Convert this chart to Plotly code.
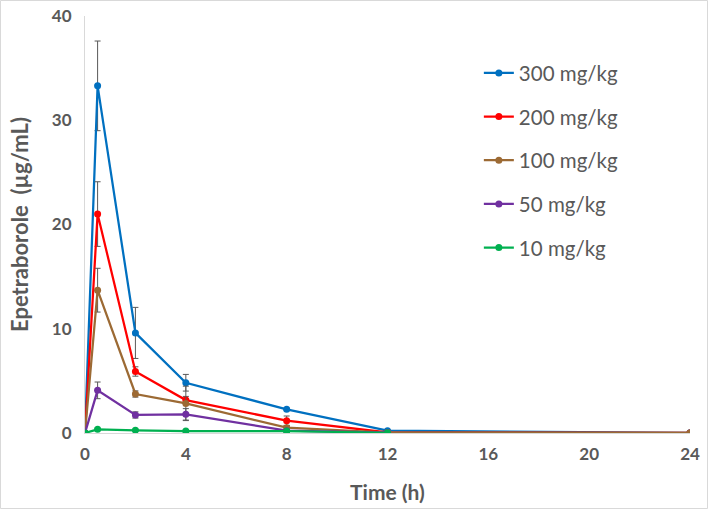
import plotly.graph_objects as go

times = [0, 0.5, 2, 4, 8, 12, 24]
series_names = ["300 mg/kg", "200 mg/kg", "100 mg/kg", "50 mg/kg", "10 mg/kg"]
colors = ["#0070C0", "#FF0000", "#9C6A34", "#7030A0", "#00B050"]

conc_300 = [0, 33.3, 9.6, 4.82, 2.27, 0.22, 0.02]
conc_200 = [0, 21.0, 5.9, 3.16, 1.18, 0.05, 0.01]
conc_100 = [0, 13.7, 3.74, 2.84, 0.51, 0.04, 0.01]
conc_50 = [0, 4.09, 1.73, 1.79, 0.22, 0.04]
conc_10 = [0, 0.35, 0.26, 0.19, 0.19, 0.02]

sd_300 = [0, 4.3, 2.45, 0.8, 0.1, 0.05, 0]
sd_200 = [0, 3.1, 0.45, 0.35, 0.45, 0.02, 0]
sd_100 = [0, 2.1, 0.3, 1.65, 0.2, 0.02, 0]
sd_50 = [0, 0.8, 0.3, 0.55, 0.1, 0.02]
sd_10 = [0, 0.1, 0.1, 0.1, 0.1, 0.02]

all_conc = [conc_300, conc_200, conc_100, conc_50, conc_10]
all_sd = [sd_300, sd_200, sd_100, sd_50, sd_10]

x_ticks = [0, 4, 8, 12, 16, 20, 24]
y_ticks = [0, 10, 20, 30, 40]

FONT = "Lato"
GRAY = "#595959"

fig = go.Figure()
for i, (name, col, ys, sds) in enumerate(zip(series_names, colors, all_conc, all_sd)):
    fig.add_trace(go.Scatter(
        x=times[:len(ys)], y=ys, name=name, mode="lines+markers",
        line=dict(color=col, width=2.25),
        marker=dict(color=col, size=7),
        error_y=dict(type="data", array=sds, visible=True, color=GRAY, thickness=1, width=3),
        legendgroup=f"g{i}",
    ))

fig.update_layout(
    width=708, height=509,
    margin=dict(l=85, r=18, t=16, b=76),
    paper_bgcolor="white", plot_bgcolor="white",
    font=dict(family=FONT, color=GRAY),
    showlegend=True,
    legend=dict(
        x=0.651, y=0.911, xanchor="left", yanchor="top",
        font=dict(family=FONT, size=20.5, color=GRAY),
        tracegroupgap=14, bgcolor="rgba(0,0,0,0)",
    ),
    xaxis=dict(
        range=[0, 24], tickvals=x_ticks, ticktext=[str(v) for v in x_ticks],
        showgrid=False, zeroline=False, showline=True, linecolor="#D9D9D9", linewidth=1,
        ticks="", automargin=False, ticklabelstandoff=6,
        tickfont=dict(family=FONT, size=17, color=GRAY, weight="bold"),
        title=dict(text="Time (h)", font=dict(family=FONT, size=21, color=GRAY, weight="bold"), standoff=21),
    ),
    yaxis=dict(
        range=[0, 40], tickvals=y_ticks, ticktext=[str(v) for v in y_ticks],
        showgrid=False, zeroline=False, showline=True, linecolor="#D9D9D9", linewidth=1,
        ticks="", automargin=False, ticklabelstandoff=9,
        tickfont=dict(family=FONT, size=17, color=GRAY, weight="bold"),
        title=dict(text="Epetraborole\u00a0 (µg/mL)", font=dict(family=FONT, size=22, color=GRAY, weight="bold"), standoff=17),
    ),
    shapes=[dict(type="rect", xref="paper", yref="paper", x0=-84.5/605, x1=1+17.5/605, y0=-75.5/417, y1=1+15.5/417,
                 line=dict(color="#D9D9D9", width=1), fillcolor="rgba(0,0,0,0)", layer="below")],
)

fig.write_html("out.html", config={"displayModeBar": False},
               post_script="document.body.style.margin='0';document.body.style.padding='0';")
